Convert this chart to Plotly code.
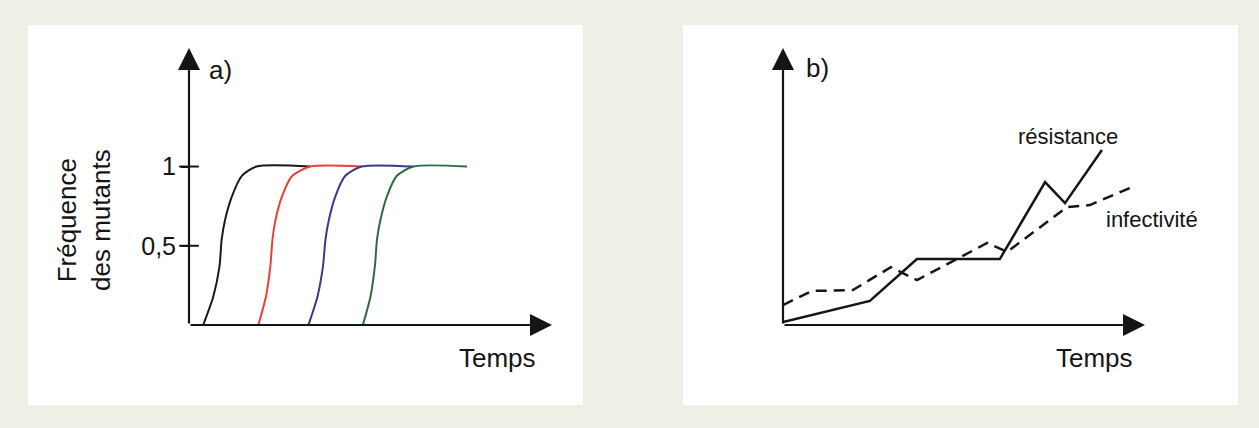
import plotly.graph_objects as go

# ---- data ----
# panel a) : frequency of mutants, four successive sweeps (time in arbitrary units 0-100)
sweep_y = [0, 0.18, 0.37, 0.54, 0.66, 0.81, 0.94, 1.0, 1.0]
black_x = [3.9, 6.7, 8.4, 9.0, 9.9, 11.8, 14.5, 18.6, 33.4]
red_x = [19.1, 21.2, 22.4, 23.0, 23.8, 25.6, 28.4, 33.4, 47.5]
blue_x = [32.9, 35.4, 36.9, 37.6, 38.5, 40.3, 43.0, 47.5, 61.8]
green_x = [47.9, 50.0, 51.2, 51.8, 52.7, 54.5, 57.2, 61.8, 76.6]
tick_vals = [0.5, 1]
tick_text = ['0,5', '1']

# panel b) : resistance vs infectivity over time
res_x = [0, 24.0, 37.0, 59.9, 72.4, 77.9, 88.1]
res_y = [1.1, 8.7, 23.8, 23.8, 51.6, 44.0, 63.2]
inf_x = [0, 8.0, 19.3, 29.8, 37.0, 56.4, 61.9, 78.5, 84.8, 96.4]
inf_y = [7.2, 12.3, 12.6, 20.9, 16.2, 29.6, 26.4, 42.6, 43.3, 49.8]

W, H = 1259, 428
FONT = 'Liberation Sans, Arial, sans-serif'
INK = '#151515'
BG = '#eef0e6'


def px(x):
    return x / W


def py(y):
    return 1 - y / H


fig = go.Figure()

# sweeps in panel a)
for xs, col in [(black_x, '#1a1a1a'), (red_x, '#e8403a'), (blue_x, '#3a3a8c'), (green_x, '#2f6b40')]:
    fig.add_trace(go.Scatter(x=xs, y=sweep_y, mode='lines', line=dict(color=col, width=2, shape='spline', smoothing=0.7),
                             xaxis='x', yaxis='y', showlegend=False, hoverinfo='skip'))

# tick marks crossing the y axis
fig.add_trace(go.Scatter(x=[0] * len(tick_vals), y=tick_vals, mode='markers', cliponaxis=False,
                         marker=dict(symbol='line-ew', size=14, line=dict(color=INK, width=2)),
                         xaxis='x', yaxis='y', showlegend=False, hoverinfo='skip'))

# panel b)
fig.add_trace(go.Scatter(x=res_x, y=res_y, mode='lines', line=dict(color=INK, width=2.5),
                         xaxis='x2', yaxis='y2', showlegend=False, hoverinfo='skip'))
fig.add_trace(go.Scatter(x=inf_x, y=inf_y, mode='lines', line=dict(color=INK, width=2.5, dash='11px,7px'),
                         xaxis='x2', yaxis='y2', showlegend=False, hoverinfo='skip'))

axis_common = dict(showgrid=False, zeroline=False, showline=False)
fig.update_layout(
    width=W, height=H,
    margin=dict(l=0, r=0, t=0, b=0),
    paper_bgcolor=BG,
    plot_bgcolor='rgba(0,0,0,0)',
    font=dict(family=FONT, color=INK),
    xaxis=dict(domain=[px(189), px(552)], range=[0, 100], showticklabels=False, **axis_common),
    yaxis=dict(domain=[py(325), py(48)], range=[0, 1.748], tickvals=tick_vals, ticktext=tick_text,
               ticks='outside', ticklen=7, tickwidth=2, tickcolor=INK, tickfont=dict(size=25, color=INK),
               **axis_common),
    xaxis2=dict(domain=[px(783), px(1145)], range=[0, 100], showticklabels=False, anchor='y2', **axis_common),
    yaxis2=dict(domain=[py(325), py(48)], range=[0, 100], showticklabels=False, anchor='x2', **axis_common),
)

# white panels
for x0, x1 in [(28, 583), (683, 1238)]:
    fig.add_shape(type='rect', xref='paper', yref='paper', x0=px(x0), x1=px(x1), y0=py(405), y1=py(25),
                  fillcolor='white', line=dict(width=0), layer='below')

# axis arrows
arrow = dict(text='', showarrow=True, arrowhead=2, arrowsize=2, arrowwidth=2.2, arrowcolor=INK, standoff=0)
for xr, yr, ymax in [('x', 'y', 1.748), ('x2', 'y2', 100)]:
    fig.add_annotation(x=100, y=0, ax=0, ay=0, xref=xr, yref=yr, axref=xr, ayref=yr, **arrow)
    fig.add_annotation(x=0, y=ymax, ax=0, ay=0, xref=xr, yref=yr, axref=xr, ayref=yr, **arrow)

# labels (paper coordinates, pixel positions)
big = dict(size=26, color=INK)
small = dict(size=22, color=INK)
labels = [
    ('a)', 207, 70, 'left', big),
    ('b)', 804, 68, 'left', big),
    ('Temps', 457, 358, 'left', big),
    ('Temps', 1054, 358, 'left', big),
    ('résistance', 1068, 136, 'center', small),
    ('infectivité', 1152, 220, 'center', small),
]
for txt, x, y, anchor, f in labels:
    fig.add_annotation(x=px(x), y=py(y), xref='paper', yref='paper', text=txt, showarrow=False,
                       xanchor=anchor, yanchor='middle', font=f)
fig.add_annotation(x=px(84), y=py(220), xref='paper', yref='paper', text='Fréquence<br>des mutants',
                   showarrow=False, textangle=-90, xanchor='center', yanchor='middle', font=big)

fig.write_html('out.html', config={'displayModeBar': False},
               post_script="document.body.style.margin='0';document.body.style.background='%s';" % BG)
